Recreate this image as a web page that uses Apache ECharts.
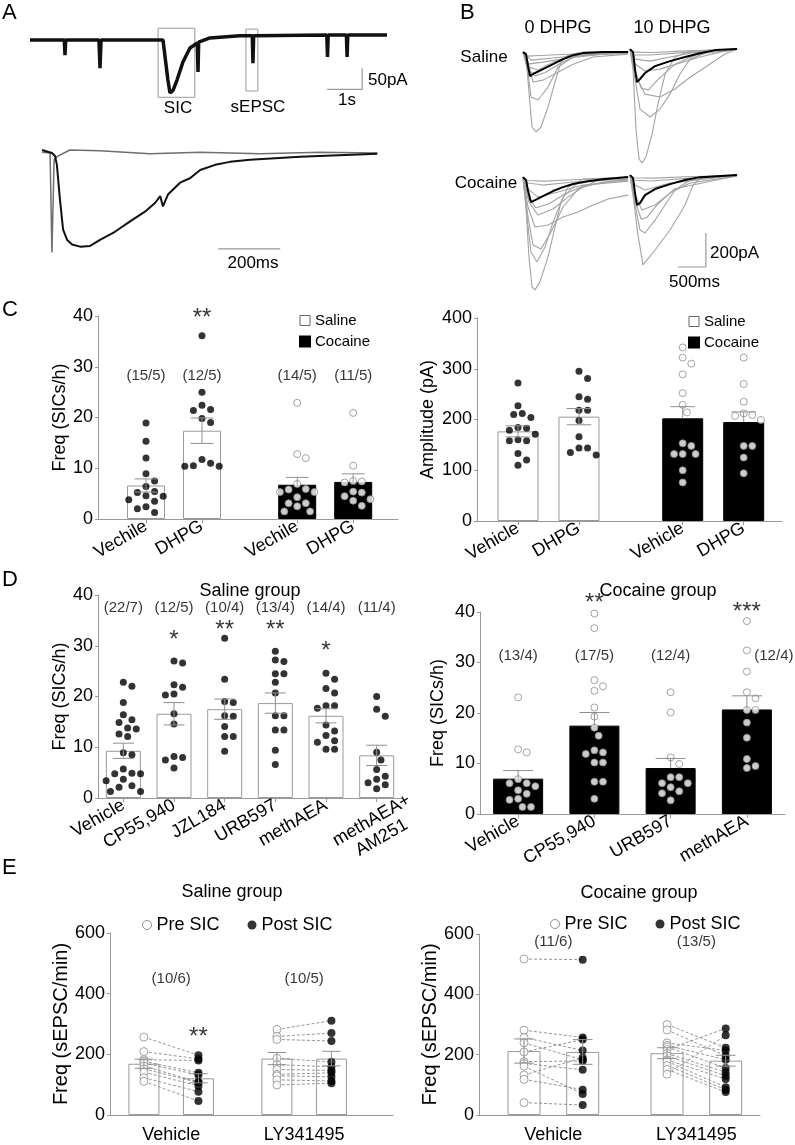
<!DOCTYPE html>
<html><head><meta charset="utf-8">
<script src="https://cdn.jsdelivr.net/npm/echarts@6/dist/echarts.min.js"></script>
<style>html,body{margin:0;padding:0;background:#fff}#c{width:795px;height:1145px}</style>
</head><body><div id="c"></div>
<script>
// ================= DATA =================
// Panel A: top trace [time s, current pA]
const A_trace = [[0,0],[0.98,0],[1.0,-36],[1.02,0],[1.97,0],[2.0,-67],[2.03,0],[3.8,0],[3.94,-95],[4.0,-126],[4.09,-119],[4.2,-95],[4.37,-52],[4.57,-19],[4.78,-7],[4.8,-76],[4.82,-5],[5.14,5],[6.0,10],[6.35,10],[6.37,-55],[6.39,10],[8.48,12],[8.5,-40],[8.52,12],[9.04,12],[9.06,-40],[9.08,12],[10.2,12]];
// Panel A: expanded SIC (black) and sEPSC (gray) [ms, pA]
const A_sic = [[0,4],[32,0],[42,-4],[48,-16],[58,-63],[68,-103],[81,-117],[97,-123],[123,-126],[155,-125],[187,-117],[235,-106],[284,-92],[332,-79],[365,-67],[381,-58],[390,-72],[406,-56],[445,-40],[477,-34],[510,-23],[558,-16],[606,-12],[671,-9],[832,-5],[1081,-1]];
const A_sepsc = [[0,1],[26,0],[32,-134],[39,-9],[48,-5],[90,4],[187,3],[348,-1],[510,1],[703,-1],[897,1],[1081,0]];
const A_scaleTop = [1, 50];     // s, pA
const A_scaleZoom = 200;        // ms

// Panel B: SIC traces [ms, pA]; mean (black) and individual (gray)
const B_sal0_mean = [[0,0],[54,-12],[90,-82],[125,-141],[179,-129],[358,-100],[537,-71],[716,-41],[895,-18],[1074,-6],[1432,0],[1880,0]];
const B_sal0_cells = [
 [[0,0],[54,-29],[107,-235],[161,-441],[233,-470],[322,-441],[448,-323],[573,-176],[680,-59],[806,-18],[1074,0],[1880,0]],
 [[0,0],[90,-118],[143,-265],[268,-282],[448,-206],[627,-88],[895,-29],[1253,-6],[1880,0]],
 [[0,0],[90,-59],[179,-176],[358,-165],[627,-118],[895,-71],[1253,-29],[1880,-12]],
 [[0,0],[107,-88],[268,-106],[537,-59],[895,-24],[1880,0]],
 [[0,0],[143,-47],[537,-35],[1074,-18],[1880,-6]],
 [[0,0],[90,-71],[358,-59],[806,-35],[1432,-12],[1880,-6]],
 [[0,0],[72,-24],[300,-20],[700,-14],[1200,-8],[1880,-4]],
 [[0,0],[90,-100],[215,-140],[400,-120],[700,-60],[1000,-20],[1880,-2]]
];
const B_sal10_mean = [[0,0],[54,-18],[90,-118],[125,-194],[179,-176],[268,-141],[448,-100],[716,-71],[985,-47],[1253,-24],[1522,-6],[1915,0]];
const B_sal10_cells = [
 [[0,0],[54,-118],[107,-470],[161,-647],[215,-670],[286,-635],[394,-500],[501,-323],[627,-147],[806,-47],[1074,-12],[1915,0]],
 [[0,0],[90,-176],[179,-353],[358,-400],[537,-353],[716,-265],[895,-147],[1074,-59],[1432,-12],[1915,0]],
 [[0,0],[90,-147],[268,-265],[537,-282],[806,-235],[985,-188],[1164,-147],[1432,-88],[1700,-29],[1915,0]],
 [[0,0],[90,-88],[268,-129],[537,-118],[895,-82],[1253,-47],[1611,-18],[1915,0]],
 [[0,0],[90,-59],[358,-71],[716,-47],[1074,-24],[1915,0]],
 [[0,0],[72,-35],[358,-35],[1074,-18],[1915,0]],
 [[0,0],[72,-18],[400,-20],[900,-12],[1500,-5],[1915,0]],
 [[0,0],[90,-130],[200,-230],[330,-240],[500,-180],[800,-90],[1200,-30],[1915,0]]
];
const B_coc0_mean = [[0,0],[54,-18],[90,-82],[143,-147],[215,-135],[358,-112],[537,-82],[716,-59],[895,-41],[1164,-24],[1432,-12],[1880,0]];
const B_coc0_cells = [
 [[0,0],[54,-176],[107,-470],[161,-647],[215,-664],[304,-617],[448,-470],[573,-294],[680,-147],[806,-59],[1074,-12],[1880,0]],
 [[0,0],[90,-235],[179,-400],[322,-423],[501,-323],[716,-176],[985,-71],[1343,-18],[1880,0]],
 [[0,0],[90,-176],[215,-294],[448,-282],[716,-235],[985,-206],[1253,-165],[1522,-129],[1880,-106]],
 [[0,0],[107,-147],[268,-223],[537,-188],[806,-118],[1074,-59],[1432,-29],[1880,-18]],
 [[0,0],[90,-71],[268,-118],[627,-88],[1074,-47],[1880,-24]],
 [[0,0],[90,-35],[358,-47],[895,-29],[1880,-12]],
 [[0,0],[72,-235],[143,-441],[250,-500],[394,-412],[537,-265],[716,-118],[985,-29],[1880,0]],
 [[0,0],[72,-20],[400,-24],[900,-16],[1500,-8],[1880,-4]],
 [[0,0],[90,-120],[230,-180],[450,-160],[750,-100],[1100,-50],[1880,-10]]
];
const B_coc10_mean = [[0,0],[54,-18],[90,-106],[125,-176],[179,-165],[268,-118],[448,-82],[716,-53],[985,-29],[1253,-12],[1915,0]];
const B_coc10_cells = [
 [[0,0],[54,-118],[143,-353],[233,-529],[448,-441],[716,-323],[985,-176],[1128,-59],[1253,-18],[1915,0]],
 [[0,0],[90,-176],[179,-323],[268,-341],[448,-265],[627,-176],[806,-88],[1074,-29],[1915,0]],
 [[0,0],[90,-118],[215,-206],[448,-176],[716,-106],[1074,-47],[1915,-6]],
 [[0,0],[90,-59],[268,-88],[716,-47],[1915,0]],
 [[0,0],[72,-29],[358,-35],[1074,-18],[1915,0]],
 [[0,0],[72,-16],[400,-18],[1000,-10],[1915,-2]],
 [[0,0],[90,-150],[200,-260],[300,-250],[500,-170],[800,-80],[1915,-4]]
];
const B_scale = [500, 200]; // ms, pA

// Panel C
const C_groups = ['Saline','Saline','Cocaine','Cocaine'];
const C_freqLabels = ['Vechile','DHPG','Vechile','DHPG'];
const C_ampLabels = ['Vehicle','DHPG','Vehicle','DHPG'];
const C_freqMean = [6.6, 17.4, 6.75, 7.3];
const C_freqSem = [1.3, 2.5, 1.45, 1.6];
const C_freqPts = [
 [18.9,15.3,12.0,8.9,7.5,6.4,5.4,5.2,4.6,4.5,3.8,3.5,2.4,2.0,1.3],
 [36.1,25.0,22.4,21.6,21.4,19.8,19.0,11.7,11.0,10.5,10.4,10.4],
 [22.9,12.8,12.0,6.9,5.9,5.8,5.3,5.3,4.3,3.1,3.1,2.5,1.5,1.5],
 [20.9,10.5,7.5,7.4,7.2,5.4,5.2,4.5,3.9,3.6,2.6]
];
const C_freqN = ['(15/5)','(12/5)','(14/5)','(11/5)'];
const C_freqSig = ['','**','',''];
const C_ampMean = [176.6, 205.6, 202.3, 195];
const C_ampSem = [11, 16, 23, 20];
const C_ampPts = [
 [272,227,212,210,204,184,183,179,171,160,158,158,133,120,110],
 [295,281,245,240,218,218,198,166,144,144,135,130],
 [342,322,310,289,252,229,214,153,148,132,132,132,100,76],
 [322,270,235,212,209,207,199,148,148,125,94]
];

// Panel D
const D_salLabels = ['Vehicle','CP55,940','JZL184','URB597','methAEA','methAEA+\nAM251'];
const D_salMean = [9.3, 16.6, 17.5, 18.7, 16.2, 8.4];
const D_salSem = [1.5, 2.2, 2.0, 2.0, 1.4, 2.0];
const D_salPts = [
 [22.8,22.0,18.8,16.4,15.4,14.9,13.8,13.6,12.6,12.1,8.9,8.5,5.7,4.9,4.8,4.8,3.7,3.4,2.4,2.1,1.3,1.3],
 [27.0,26.6,22.3,21.8,20.5,20.3,16.6,14.6,8.2,8.0,7.5,5.9],
 [31.5,23.4,19.0,18.8,16.2,16.1,14.1,12.1,12.1,9.2],
 [28.9,27.2,26.9,24.5,24.5,22.8,20.7,16.2,16.2,13.4,13.4,9.4,6.6],
 [24.6,23.4,21.6,20.7,18.2,18.2,17.7,14.4,13.2,12.3,11.3,11.0,9.6,9.6],
 [20.0,17.5,16.1,9.0,7.5,5.6,4.3,3.7,3.0,2.6,1.8]
];
const D_salN = ['(22/7)','(12/5)','(10/4)','(13/4)','(14/4)','(11/4)'];
const D_salSig = ['','*','**','**','*',''];
const D_cocLabels = ['Vehicle','CP55,940','URB597','methAEA'];
const D_cocMean = [7.0, 17.5, 9.1, 20.7];
const D_cocSem = [1.6, 2.6, 1.9, 2.7];
const D_cocPts = [
 [23.1,12.8,12.2,6.9,6.1,6.1,5.5,4.7,4.0,3.0,2.8,1.4,1.4],
 [39.7,36.8,26.5,25.3,24.4,21.1,19.3,17.1,15.5,12.6,12.2,11.9,10.2,10.2,6.4,6.4,3.0],
 [24.1,20.1,11.2,9.9,7.3,7.3,6.1,6.1,5.3,4.5,4.1,2.7],
 [38.2,32.4,28.2,24.1,22.9,20.6,20.6,18.1,15.1,10.9,9.5,9.1]
];
const D_cocN = ['(13/4)','(17/5)','(12/4)','(12/4)'];
const D_cocSig = ['','**','','***'];

// Panel E (paired pre/post per cell)
const E_labels = ['Vehicle','LY341495'];
const E_salPreMean = [169, 186], E_salPreSem = [15, 20];
const E_salPostMean = [121, 186], E_salPostSem = [15, 24];
const E_salPre = [[257,209,182,177,171,161,152,141,123,111],[282,259,249,187,166,150,134,129,116,99]];
const E_salPost = [[197,185,180,139,132,109,107,96,77,46],[311,270,244,175,159,147,139,126,112,105]];
const E_salN = ['(10/6)','(10/5)'];
const E_salSig = ['**',''];
const E_cocPreMean = [212, 205], E_cocPreSem = [40, 18];
const E_cocPostMean = [209, 180], E_cocPostSem = [41, 18];
const E_cocPre = [[517,281,257,239,209,177,171,162,132,118,41],[300,282,239,231,225,217,204,196,183,178,164,151,135]];
const E_cocPost = [[515,257,214,183,250,179,150,70,190,84,33],[223,196,214,183,156,287,142,130,119,92,84,76,264]];
const E_cocN = ['(11/6)','(13/5)'];
const E_cocSig = ['',''];

// ================= BUILD =================
const FONT = '"Liberation Sans", Arial, sans-serif';
const AX = '#9a9a9a';
const grids = [], xAxes = [], yAxes = [], series = [], graphics = [], extraX = [];

function addTraceGrid(box, xr, yr){
  const gi = grids.length;
  grids.push({left:box[0], top:box[1], width:box[2], height:box[3]});
  xAxes.push({gridIndex:gi, type:'value', min:xr[0], max:xr[1], show:false});
  yAxes.push({gridIndex:gi, type:'value', min:yr[0], max:yr[1], show:false});
  return gi;
}
function line(gi, data, color, width, z, extra){
  series.push(Object.assign({type:'line', xAxisIndex:gi, yAxisIndex:gi, data, symbol:'none', showSymbol:false,
    lineStyle:{color, width}, silent:true, z:z||2, clip:false}, extra||{}));
}

function swarm(vals, pxY, pxX, d){
  const idx = vals.map((v,i)=>i).sort((a,b)=>vals[b]-vals[a]);
  const placed = [], off = new Array(vals.length).fill(0);
  const cands = [0]; for (let k=1;k<=14;k++) cands.push(k*d/2, -k*d/2);
  for (const i of idx){
    const y = vals[i]*pxY;
    for (const c of cands){
      if (placed.every(p => (p.x-c)*(p.x-c)+(p.y-y)*(p.y-y) >= d*d*0.97)){ off[i]=c; placed.push({x:c,y}); break; }
    }
  }
  return off.map(o=>o/pxX);
}

function fmt(lp, labels){ return v=>{const k=lp.findIndex(p=>Math.abs(p-v)<1e-6); return k>=0?labels[k]:'';}; }

function barPanel(c){
  const gi = grids.length;
  grids.push({left:c.box[0], top:c.box[1], width:c.box[2], height:c.box[3]});
  const lp = c.labelPos || c.pos;
  // labels that are centred under their tick (multi-line) go on an extra, line-less axis
  const centred = c.centred || [];
  const mainLp = lp.filter((p,k)=>!centred.includes(k));
  xAxes.push({gridIndex:gi, type:'value', min:c.xmin, max:c.xmax,
    axisLine:{show:true, onZero:false, lineStyle:{color:AX}}, splitLine:{show:false},
    axisTick:{show:c.xTicks!==false, customValues:lp, length:4, lineStyle:{color:AX}},
    axisLabel:{customValues:mainLp, rotate:c.rotate||0, margin:c.labelMargin||6, fontSize:18, color:'#000', fontFamily:FONT, lineHeight:20,
      showMinLabel:true, showMaxLabel:true, hideOverlap:false, formatter:fmt(lp, c.labels)}});
  if (centred.length){
    extraX.push({gridIndex:gi, type:'value', min:c.xmin, max:c.xmax, position:'bottom',
      axisLine:{show:false}, axisTick:{show:false}, splitLine:{show:false},
      axisLabel:{customValues:centred.map(k=>lp[k]), rotate:c.rotate||0, align:'center', verticalAlign:'middle',
        margin:31, fontSize:18, color:'#000', fontFamily:FONT, lineHeight:20,
        showMinLabel:true, showMaxLabel:true, hideOverlap:false, formatter:fmt(lp, c.labels)}});
  }
  yAxes.push({gridIndex:gi, type:'value', min:c.ymin, max:c.ymax, interval:c.yint,
    axisLine:{show:true, lineStyle:{color:AX}}, splitLine:{show:false},
    axisTick:{show:true, length:3, lineStyle:{color:AX}},
    axisLabel:{fontSize:18, color:'#000', fontFamily:FONT, margin:5, showMinLabel:true, showMaxLabel:true},
    name:c.yName, nameLocation:'middle', nameGap:c.nameGap,
    nameTextStyle:{fontSize:c.nameSize||18, color:'#000', fontFamily:FONT}});
  return gi;
}

const KIND = {
  sal:{name:'Saline', bar:{color:'#fff', borderColor:'#9a9a9a', borderWidth:1}, dot:{color:'#000'}, both:true},
  coc:{name:'Cocaine', bar:{color:'#000', borderColor:'#000', borderWidth:1}, dot:{color:'#fff', borderColor:'#8c8c8c', borderWidth:1}, both:false},
  pre:{name:'Pre SIC', bar:{color:'#fff', borderColor:'#9a9a9a', borderWidth:1}, dot:{color:'#fff', borderColor:'#8c8c8c', borderWidth:1}, both:true},
  post:{name:'Post SIC', bar:{color:'#fff', borderColor:'#9a9a9a', borderWidth:1}, dot:{color:'#000'}, both:true}
};

function addGroups(gi, c, items, o){
  const pxX = c.box[2]/(c.xmax-c.xmin), pxY = c.box[3]/(c.ymax-c.ymin);
  const kinds = [...new Set(items.map(it=>it.kind))];
  kinds.forEach(kn=>{
    const K = KIND[kn];
    const its = items.filter(it=>it.kind===kn);
    series.push({type:'bar', name: (kn==='sal'||kn==='coc') ? K.name : K.name+' bar', xAxisIndex:gi, yAxisIndex:gi,
      barWidth:o.barW, barGap:'-100%', data: its.map(it=>[it.x, it.mean]), itemStyle:K.bar, silent:true, z:2});
    const pts = [];
    its.forEach(it=>{
      const off = o.swarm ? swarm(it.pts, pxY, pxX, o.dot+1.6) : it.pts.map(()=>0);
      it.pts.forEach((v,j)=>pts.push([it.x+off[j], v]));
    });
    series.push({type:'scatter', name:K.name, xAxisIndex:gi, yAxisIndex:gi, data:pts, symbol:'circle',
      symbolSize:o.dot, itemStyle:K.dot, silent:true, z:4, clip:false});
  });
  const capHalf = o.barW*0.3;
  series.push({type:'custom', xAxisIndex:gi, yAxisIndex:gi, silent:true, z:5, clip:false,
    data: items.map(it=>[it.x, it.mean, KIND[it.kind].both ? it.mean-it.sem : it.mean, it.mean+it.sem]),
    renderItem:(p,api)=>{
      const x=api.value(0), m=api.value(1), lo=api.value(2), hi=api.value(3);
      const t=api.coord([x,hi]), b=api.coord([x,lo]);
      const st={stroke:'#8f8f8f', lineWidth:1};
      const ch=[{type:'line', shape:{x1:t[0],y1:t[1],x2:b[0],y2:b[1]}, style:st},
                {type:'line', shape:{x1:t[0]-capHalf,y1:t[1],x2:t[0]+capHalf,y2:t[1]}, style:st}];
      if (lo<m) ch.push({type:'line', shape:{x1:b[0]-capHalf,y1:b[1],x2:b[0]+capHalf,y2:b[1]}, style:st});
      return {type:'group', children:ch};
    }});
}

function addTexts(gi, arr){
  series.push({type:'scatter', xAxisIndex:gi, yAxisIndex:gi, silent:true, z:6, clip:false,
    symbolSize:0, itemStyle:{color:'transparent'},
    data: arr.filter(a=>a.t).map(a=>({name:a.t, value:[a.x,a.y],
      label:{show:true, position:'inside', formatter:'{b}', color:'#000', fontFamily:FONT,
        fontSize:a.size, offset:a.off||[0,0]}}))});
}

function txt(text, x, y, size, align){
  graphics.push({type:'text', silent:true, style:{text, x, y, fill:'#000', fontSize:size, fontFamily:FONT,
    align:align||'center', verticalAlign:'middle'}});
}

// ---- Panel A ----
const gA1 = addTraceGrid([30,27.4,357,80], [0,10.2], [-160,30]);
line(gA1, A_trace, '#111', 3.5, 2, {markArea:{silent:true, itemStyle:{color:'rgba(0,0,0,0)', borderColor:'#999', borderWidth:1},
  data:[[{xAxis:3.66,yAxis:28},{xAxis:4.71,yAxis:-136}],[{xAxis:6.17,yAxis:26},{xAxis:6.51,yAxis:-121}]]}});
{ const ax=8.49, ay=-117;
  line(gA1, [[ax,ay],[ax+A_scaleTop[0],ay],[ax+A_scaleTop[0],ay+A_scaleTop[1]]], '#999', 1.2, 3); }
const gA2 = addTraceGrid([42,145.5,335,119], [0,1080], [-150,10]);
line(gA2, A_sepsc, '#6e6e6e', 1.5, 2);
line(gA2, A_sic, '#111', 2, 3);
line(gA2, [[568,-129],[568+A_scaleZoom,-129]], '#999', 1.2, 3);

// ---- Panel B ----
function bPanel(box, mean, cells){
  const g = addTraceGrid(box, [0,1950], [-700,30]);
  cells.forEach(cl=>line(g, cl, '#a3a3a3', 1.1, 2));
  line(g, mean, '#000', 2, 3);
  return g;
}
bPanel([523,47,109,124], B_sal0_mean, B_sal0_cells);
bPanel([630,44,109,124], B_sal10_mean, B_sal10_cells);
bPanel([523,172,109,124], B_coc0_mean, B_coc0_cells);
const gB4 = bPanel([630,170,109,124], B_coc10_mean, B_coc10_cells);
{ const bx=857, by=-541;
  line(gB4, [[bx,by],[bx+B_scale[0],by],[bx+B_scale[0],by+B_scale[1]]], '#999', 1.2, 4); }

// ---- Panel C left ----
const cL = {box:[98,316,300,203], xmin:0.143, xmax:5.5, ymin:0, ymax:40, yint:10, pos:[1,2,3.7,4.7],
  labels:C_freqLabels, rotate:30, yName:'Freq (SICs/h)', nameGap:29};
const gCL = barPanel(cL);
addGroups(gCL, cL, C_groups.map((g,k)=>({x:cL.pos[k], mean:C_freqMean[k], sem:C_freqSem[k], pts:C_freqPts[k], kind:g==='Saline'?'sal':'coc'})), {barW:38, dot:7, swarm:true});
addTexts(gCL, C_freqN.map((t,k)=>({x:cL.pos[k], y:28.2, t, size:15})).concat(
  C_freqSig.map((t,k)=>({x:cL.pos[k], y:40.6, t, size:24, off:[0,5]}))));

// ---- Panel C right ----
const cR = {box:[477,318,305,203], xmin:0.328, xmax:5.328, ymin:0, ymax:400, yint:100, pos:[1,2,3.7,4.7],
  labels:C_ampLabels, rotate:30, yName:'Amplitude (pA)', nameGap:40};
const gCR = barPanel(cR);
addGroups(gCR, cR, C_groups.map((g,k)=>({x:cR.pos[k], mean:C_ampMean[k], sem:C_ampSem[k], pts:C_ampPts[k], kind:g==='Saline'?'sal':'coc'})), {barW:41, dot:7, swarm:true});

// ---- Panel D left ----
const dL = {box:[98,595,304,203], xmin:0.5, xmax:6.5, ymin:0, ymax:40, yint:10, pos:[1,2,3,4,5,6],
  labels:D_salLabels, rotate:30, centred:[5], yName:'Freq (SICs/h)', nameGap:29};
const gDL = barPanel(dL);
addGroups(gDL, dL, D_salMean.map((m,k)=>({x:dL.pos[k], mean:m, sem:D_salSem[k], pts:D_salPts[k], kind:'sal'})), {barW:35, dot:7, swarm:true});
const D_starY = [0, 32.1, 34.1, 34.1, 29.8, 0];
addTexts(gDL, D_salN.map((t,k)=>({x:dL.pos[k], y:37.4, t, size:15})).concat(
  D_salSig.map((t,k)=>({x:dL.pos[k], y:D_starY[k], t, size:24, off:[0,5]}))));

// ---- Panel D right ----
const dR = {box:[480,612,305,202], xmin:0.5, xmax:4.5, ymin:0, ymax:40, yint:10, pos:[1,2,3,4],
  labels:D_cocLabels, rotate:30, yName:'Freq (SICs/h)', nameGap:33};
const gDR = barPanel(dR);
addGroups(gDR, dR, D_cocMean.map((m,k)=>({x:dR.pos[k], mean:m, sem:D_cocSem[k], pts:D_cocPts[k], kind:'coc'})), {barW:50, dot:7, swarm:true});
const D_cocStarY = [0, 42.6, 0, 41.0];
addTexts(gDR, D_cocN.map((t,k)=>({x:dR.pos[k], y:31.3, t, size:15, off:[k===3?27:0,0]})).concat(
  D_cocSig.map((t,k)=>({x:dR.pos[k], y:D_cocStarY[k], t, size:24, off:[0,5]}))));

// ---- Panel E ----
function ePanel(c, preMean, preSem, postMean, postSem, pre, post, nLab, sig, nY, sigY){
  const gi = barPanel(c);
  const items = [];
  c.pos.forEach((x,k)=>{
    items.push({x, mean:preMean[k], sem:preSem[k], pts:pre[k], kind:'pre'});
    items.push({x:x+c.postOff, mean:postMean[k], sem:postSem[k], pts:post[k], kind:'post'});
  });
  const links = [];
  c.pos.forEach((x,k)=>pre[k].forEach((v,j)=>links.push([x, v, x+c.postOff, post[k][j]])));
  series.push({type:'custom', xAxisIndex:gi, yAxisIndex:gi, silent:true, z:3, clip:false, data:links,
    renderItem:(p,api)=>{
      const a=api.coord([api.value(0),api.value(1)]), b=api.coord([api.value(2),api.value(3)]);
      return {type:'line', shape:{x1:a[0],y1:a[1],x2:b[0],y2:b[1]}, style:{stroke:'#8a8a8a', lineWidth:0.9, lineDash:[3,2]}};
    }});
  addGroups(gi, c, items, {barW:c.barW, dot:8, swarm:false});
  addTexts(gi, nLab.map((t,k)=>({x:c.pos[k]+c.postOff/2, y:nY, t, size:15})).concat(
    sig.map((t,k)=>({x:c.pos[k]+c.postOff, y:sigY, t, size:24, off:[0,5]}))));
  return gi;
}
const eL = {box:[110,933,283,187], xmin:0.745, xmax:2.873, ymin:0, ymax:600, yint:200, pos:[1,2], postOff:0.41,
  labels:E_labels, labelPos:[1.205,2.205], xTicks:false, labelMargin:10, yName:'Freq (sEPSC/min)', nameGap:36, nameSize:20, barW:31};
ePanel(eL, E_salPreMean, E_salPreSem, E_salPostMean, E_salPostSem, E_salPre, E_salPost, E_salN, E_salSig, 450, 273);
const eR = {box:[479,934,281,187], xmin:0.685, xmax:2.65, ymin:0, ymax:600, yint:200, pos:[1,2], postOff:0.41,
  labels:E_labels, labelPos:[1.205,2.205], xTicks:false, labelMargin:10, yName:'Freq (sEPSC/min)', nameGap:36, nameSize:20, barW:33};
ePanel(eR, E_cocPreMean, E_cocPreSem, E_cocPostMean, E_cocPostSem, E_cocPre, E_cocPost, E_cocN, E_cocSig, 573, 0);

// ---- texts ----
txt('A', 2, 13, 22, 'left'); txt('B', 460, 13, 22, 'left'); txt('C', 2, 310, 22, 'left');
txt('D', 2, 580, 22, 'left'); txt('E', 2, 868, 22, 'left');
txt('SIC', 178, 108, 17); txt('sEPSC', 258, 107, 17);
txt('50pA', 368, 80, 17, 'left'); txt('1s', 347, 100, 17); txt('200ms', 253, 263, 17);
txt('0 DHPG', 558, 28, 18); txt('10 DHPG', 672, 28, 18);
txt('Saline', 484, 57, 17); txt('Cocaine', 486, 183, 17);
txt('200pA', 710, 253, 17, 'left'); txt('500ms', 669, 282, 17, 'left');
txt('Saline group', 250, 591, 18); txt('Cocaine group', 658, 591, 18);
txt('Saline group', 232, 892, 18); txt('Cocaine group', 639, 893, 18);

const legC = (left, top)=>({left, top, orient:'vertical', itemWidth:10, itemHeight:10, itemGap:6, icon:'rect', selectedMode:false,
  textStyle:{fontSize:15, color:'#000', fontFamily:FONT},
  data:[{name:'Saline', itemStyle:{color:'#fff', borderColor:'#666', borderWidth:1}}, {name:'Cocaine', itemStyle:{color:'#000', borderColor:'#000'}}]});
const legE = (left, top)=>({left, top, orient:'horizontal', itemWidth:9, itemHeight:9, itemGap:28, icon:'circle', selectedMode:false,
  textStyle:{fontSize:18, color:'#000', fontFamily:FONT},
  data:[{name:'Pre SIC', itemStyle:{color:'#fff', borderColor:'#777', borderWidth:1}}, {name:'Post SIC', itemStyle:{color:'#000'}}]});

const chart = echarts.init(document.getElementById('c'), null, {renderer:'canvas', width:795, height:1145});
chart.setOption({
  animation:false, backgroundColor:'#fff',
  textStyle:{fontFamily:FONT},
  grid:grids, xAxis:xAxes.concat(extraX), yAxis:yAxes, series,
  legend:[legC(294,308), legC(683,309), legE(137,911), legE(545,910)],
  graphic:graphics
});
</script></body></html>
